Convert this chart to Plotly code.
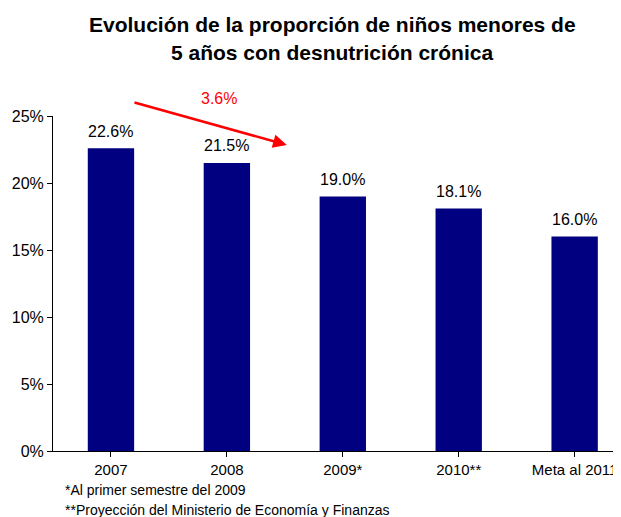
import plotly.graph_objects as go

categories = ["2007", "2008", "2009*", "2010**", "Meta al 2011"]
values = [22.6, 21.5, 19.0, 18.1, 16.0]
y_ticks = [0, 5, 10, 15, 20, 25]
y_tick_labels = ["0%", "5%", "10%", "15%", "20%", "25%"]
arrow_label = "3.6%"
title_lines = ["Evolución de la proporción de niños menores de",
               "5 años con desnutrición crónica"]
footnotes = ["*Al primer semestre del 2009",
             "**Proyección del Ministerio de Economía y Finanzas"]

FONT = "Arial, Liberation Sans, sans-serif"
W, H = 621, 517
# page body offset of ~8px is compensated in the margins
L, R, T, B = 45, 8, 108, 74
PW, PH = W - L - R, H - T - B
X_RANGE = [-0.5, 4.4]
Y_RANGE = [0, 25]

fig = go.Figure()
x_idx = list(range(len(categories)))
fig.add_trace(go.Bar(
    x=x_idx, y=values,
    marker=dict(color="#000080", line=dict(width=0)),
    width=0.4,
    hoverinfo="skip",
))

for xi, v in zip(x_idx, values):
    fig.add_annotation(x=xi, y=v, xref="x", yref="y", text=f"{v:.1f}%",
                       showarrow=False, yanchor="middle", yshift=17,
                       font=dict(family=FONT, size=16, color="black"))

fig.update_layout(
    width=W, height=H,
    margin=dict(l=L, r=R, t=T, b=B, autoexpand=False),
    paper_bgcolor="white", plot_bgcolor="white",
    showlegend=False,
    font=dict(family=FONT, size=16, color="black"),
    xaxis=dict(
        tickmode="array", tickvals=x_idx, ticktext=categories,
        range=X_RANGE, showline=True, linecolor="black", linewidth=1,
        ticks="outside", tickson="boundaries", ticklen=5, tickcolor="black",
        showgrid=False, zeroline=False, tickfont=dict(size=15), automargin=False,
    ),
    yaxis=dict(
        range=Y_RANGE, tickvals=y_ticks, ticktext=y_tick_labels,
        showline=True, linecolor="black", linewidth=1,
        ticks="outside", ticklen=5, tickcolor="black",
        showgrid=False, zeroline=False, tickfont=dict(size=16), automargin=False,
    ),
)

def px_to_paper(fx, fy):
    return (fx - L) / PW, (H - B - fy) / PH

def data_to_paper(dx, dy):
    return ((dx - X_RANGE[0]) / (X_RANGE[1] - X_RANGE[0]),
            (dy - Y_RANGE[0]) / (Y_RANGE[1] - Y_RANGE[0]))

# title (two lines)
for txt, fy in zip(title_lines, [16, 45]):
    px, py = px_to_paper(324, fy)
    fig.add_annotation(x=px, y=py, xref="paper", yref="paper", text=f"<b>{txt}</b>",
                       showarrow=False, xanchor="center", yanchor="middle",
                       font=dict(family=FONT, size=21, color="black"))

# red arrow showing the decrease
fig.add_annotation(
    x=1.517, y=22.84, ax=0.19, ay=26.04,
    xref="x", yref="y", axref="x", ayref="y",
    showarrow=True, arrowhead=2, arrowsize=1.1, arrowwidth=2.5, arrowcolor="#FF0000",
    text="",
)
lx, ly = data_to_paper(0.93, 26.3)
fig.add_annotation(
    x=lx, y=ly, xref="paper", yref="paper", text=arrow_label, showarrow=False,
    xanchor="center", yanchor="middle",
    font=dict(family=FONT, size=16, color="#FF0000"),
)

# footnotes
for txt, fy in zip(footnotes, [482, 502]):
    px, py = px_to_paper(55, fy)
    fig.add_annotation(x=px, y=py, xref="paper", yref="paper",
                       xanchor="left", yanchor="middle", text=txt, showarrow=False,
                       font=dict(family=FONT, size=14, color="black"))

fig.write_html("out.html")
